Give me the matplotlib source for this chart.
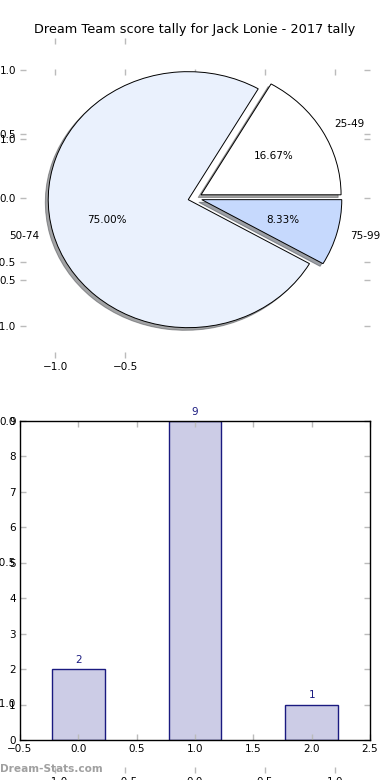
import matplotlib
matplotlib.use("Agg")
import matplotlib.pyplot as plt

# ---- data ----
categories = ["25-49", "50-74", "75-99"]
counts = [2, 9, 1]
pie_colors = ["#ffffff", "#eaf1fd", "#c6d9fd"]
explode = [0.05, 0.05, 0.05]
bar_positions = [0, 1, 2]
title = "Dream Team score tally for Jack Lonie - 2017 tally"

W, H = 390, 780
fig = plt.figure(figsize=(W / 100, H / 100), dpi=100)
fig.patch.set_facecolor("white")

FS = 7.5
TICK_C = "#bbbbbb"


def fpos(l, t, r, b):
    return [l / W, 1 - b / H, (r - l) / W, (b - t) / H]


def style_ticks(ax):
    ax.tick_params(axis="both", which="both", direction="in", length=4,
                   width=1, color=TICK_C, labelsize=FS, labelcolor="black",
                   top=True, right=True, pad=3)


# background axes (frameless, spans most of the figure)
ax_bg = fig.add_axes(fpos(20, 69, 370, 773))
ax_bg.set_frame_on(False)
ax_bg.set_xlim(-1.25, 1.25)
ax_bg.set_ylim(-1.25, 1.25)
ax_bg.set_xticks([-1.0, -0.5, 0.0, 0.5, 1.0])
ax_bg.set_yticks([-1.0, -0.5, 0.0, 0.5, 1.0])
style_ticks(ax_bg)

# pie axes
ax_pie = fig.add_axes(fpos(20, 38, 370, 358))
ax_pie.pie(counts, labels=categories, colors=pie_colors, explode=explode,
           autopct="%.2f%%", shadow=dict(ox=-0.015, oy=-0.015), startangle=0,
           wedgeprops=dict(edgecolor="black", linewidth=0.7),
           textprops=dict(fontsize=FS, color="black"))
ax_pie.set_aspect("auto")
ax_pie.set_frame_on(False)
ax_pie.set_xlim(-1.25, 1.25)
ax_pie.set_ylim(-1.25, 1.25)
ax_pie.set_xticks([-1.0, -0.5])
ax_pie.set_yticks([-1.0, -0.5, 0.0, 0.5, 1.0])
style_ticks(ax_pie)

# bar axes
ax_bar = fig.add_axes(fpos(20, 421, 370, 740))
bars = ax_bar.bar(bar_positions, counts, width=0.45, color="#cccce6",
                  edgecolor="#1a1a80", linewidth=1)
for x, v in zip(bar_positions, counts):
    ax_bar.annotate(str(v), xy=(x, v), xytext=(0, 3), textcoords="offset points",
                    ha="center", va="bottom", fontsize=FS, color="#1a1a80")
ax_bar.set_xlim(-0.5, 2.5)
ax_bar.set_ylim(0, 9)
ax_bar.set_xticks([-0.5, 0.0, 0.5, 1.0, 1.5, 2.0, 2.5])
ax_bar.set_yticks(range(0, 10))
style_ticks(ax_bar)
for s in ax_bar.spines.values():
    s.set_color("black")
    s.set_linewidth(1)

fig.text(195 / W, 1 - 30 / H, title, ha="center", va="center", fontsize=9.3,
         color="black")
fig.text(0, 1 - 769 / H, "Dream-Stats.com", ha="left", va="center",
         fontsize=7.6, fontweight="bold", color="#a0a0a0")

fig.savefig("out.png", dpi=100)
